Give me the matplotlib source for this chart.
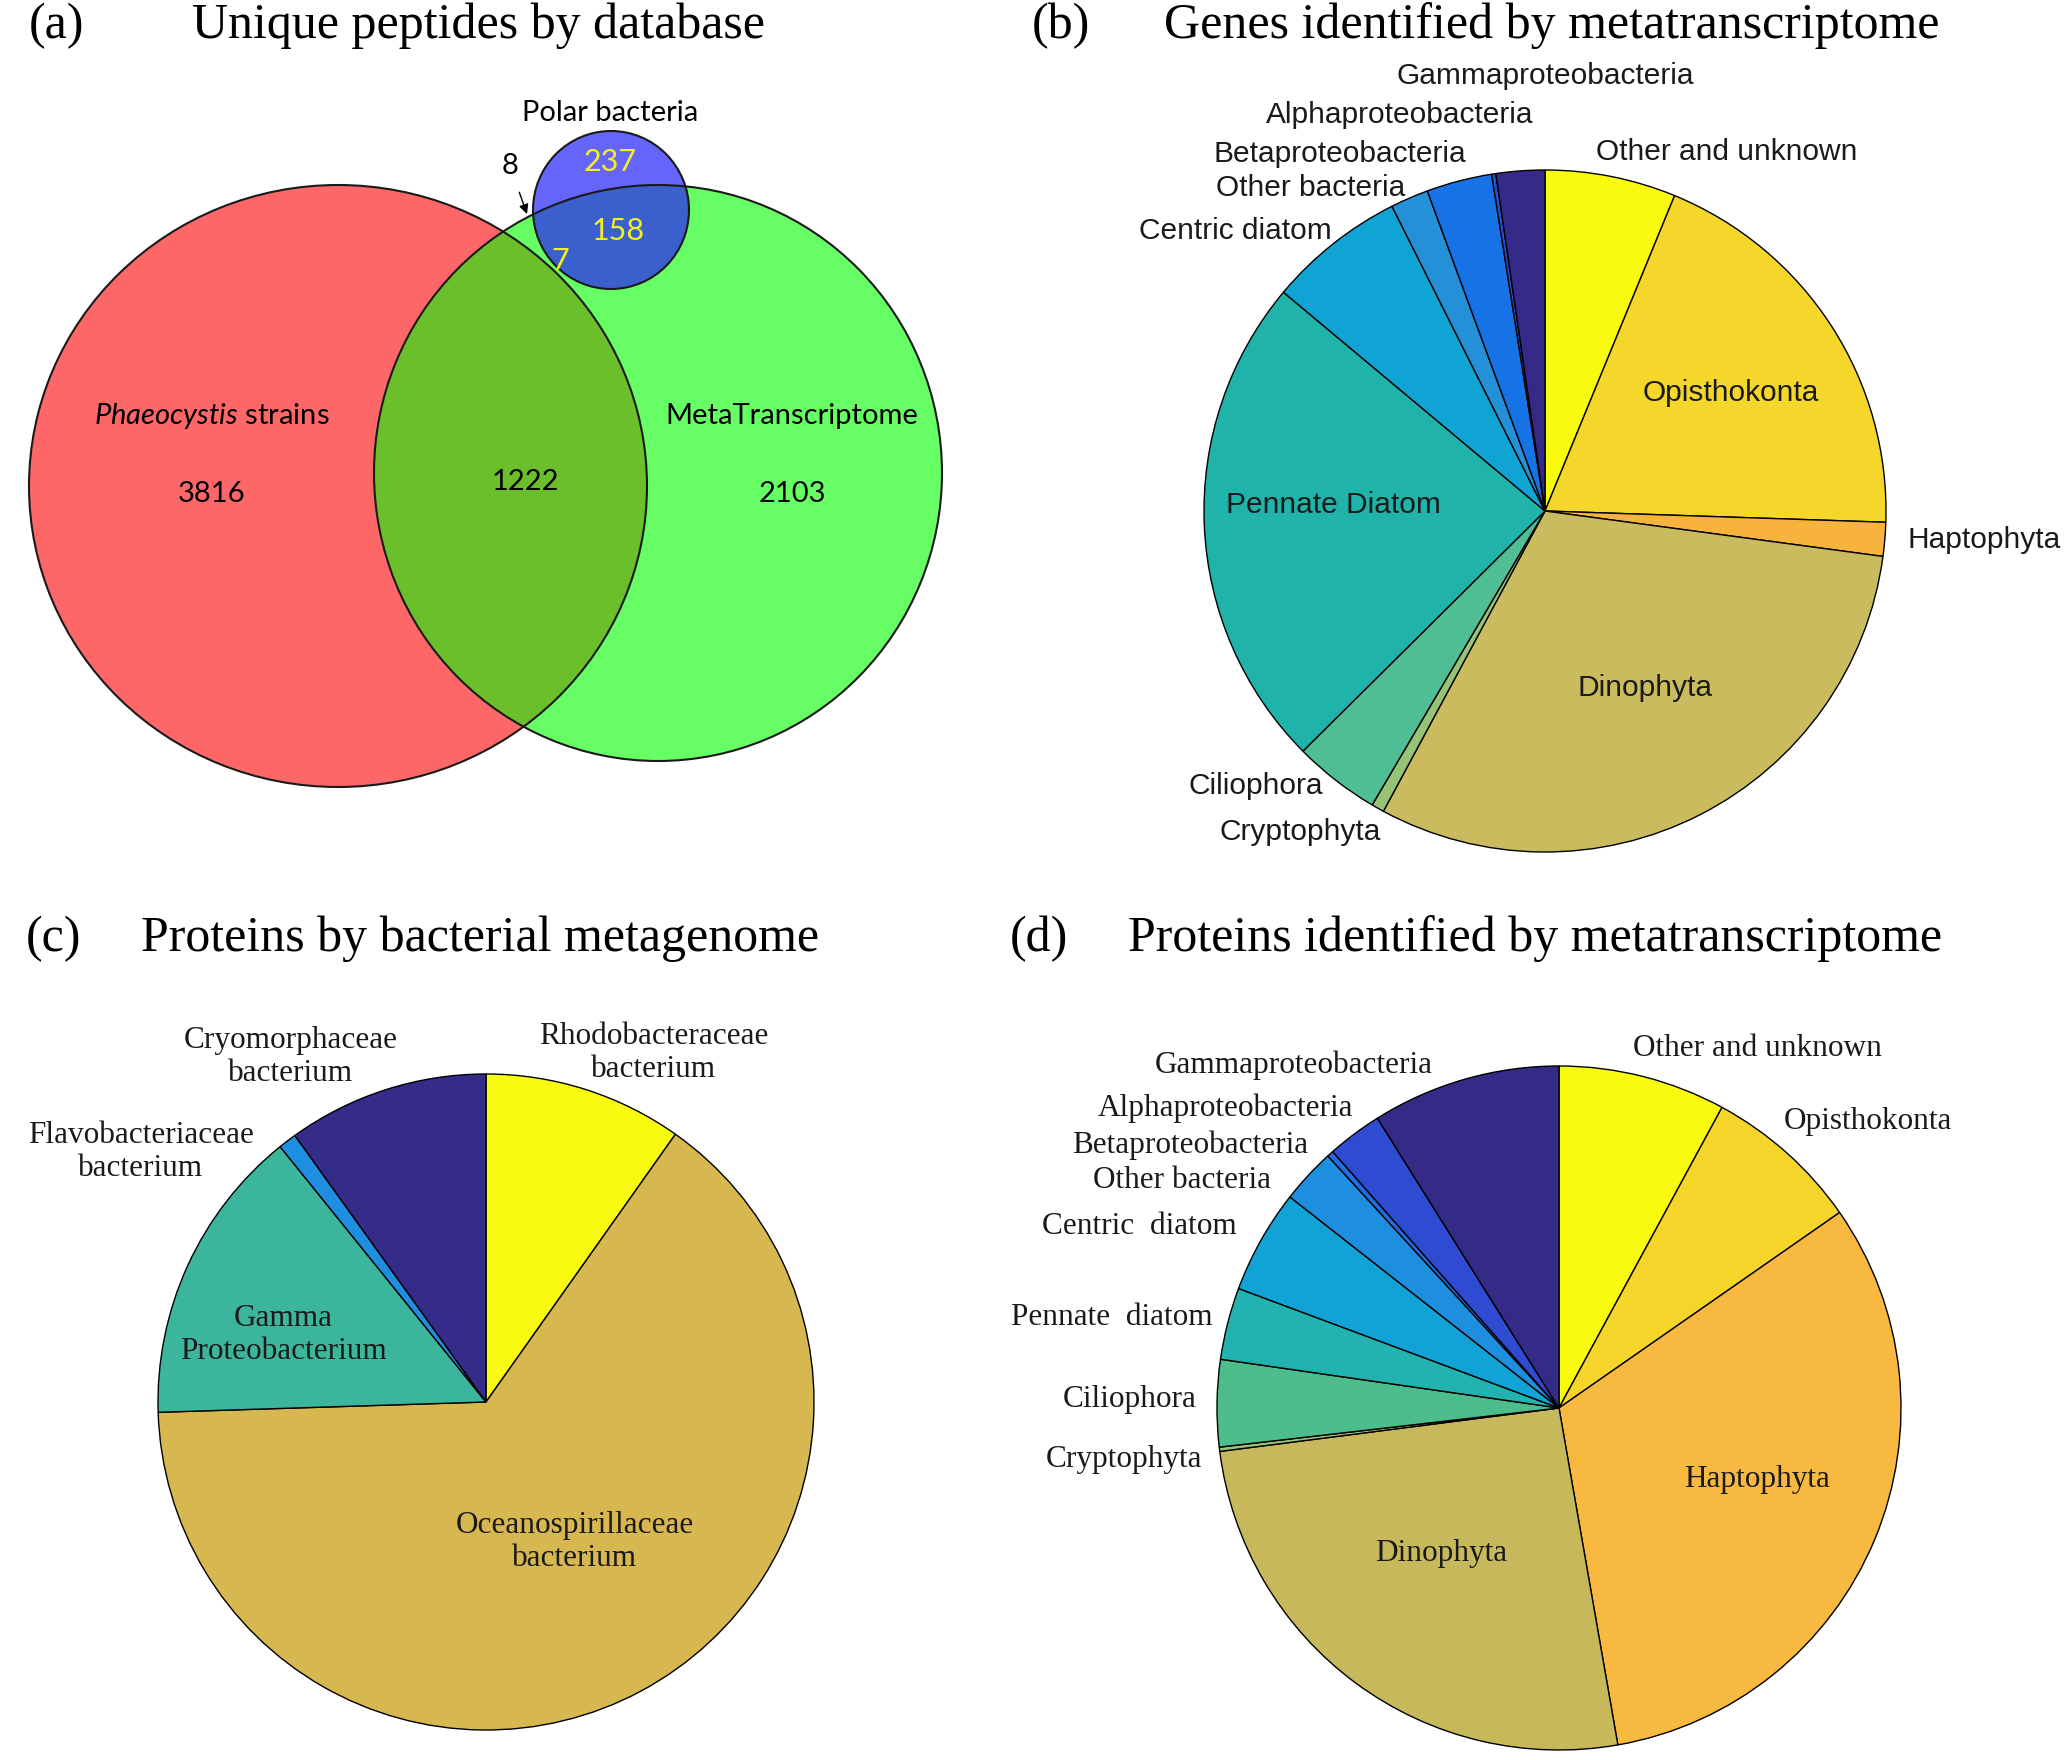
#!/usr/bin/env python3
"""
Four-panel figure: Venn diagram of unique peptides plus three taxonomy pies.
"""
import matplotlib
matplotlib.use('Agg')
import matplotlib.pyplot as plt
from matplotlib.patches import Ellipse

W, H = 2067, 1760

# ---- data -------------------------------------------------------------
venn_sets = ['Phaeocystis strains', 'MetaTranscriptome', 'Polar bacteria']
venn_counts = {'phaeo_only': 3816, 'phaeo_meta': 1222, 'meta_only': 2103,
               'polar_only': 237, 'polar_meta': 158, 'all_three': 7,
               'phaeo_polar': 8}

# (b) genes identified by metatranscriptome, % of genes
b_labels = ['Other and unknown', 'Opisthokonta', 'Haptophyta', 'Dinophyta',
            'Cryptophyta', 'Ciliophora', 'Pennate Diatom', 'Centric diatom',
            'Other bacteria', 'Betaproteobacteria', 'Alphaproteobacteria',
            'Gammaproteobacteria']
b_values = [6.2, 19.3, 1.6, 30.7, 0.6, 4.1, 23.5, 6.5, 1.8, 3.1, 0.2, 2.3]

# (c) proteins by bacterial metagenome, %
c_labels = ['Rhodobacteraceae\nbacterium', 'Oceanospirillaceae\nbacterium',
            'Gamma\nProteobacterium', 'Flavobacteriaceae\nbacterium',
            'Cryomorphaceae\nbacterium']
c_values = [9.8, 64.7, 14.7, 0.9, 9.9]

# (d) proteins identified by metatranscriptome, %
d_labels = ['Other and unknown', 'Opisthokonta', 'Haptophyta', 'Dinophyta',
            'Cryptophyta', 'Ciliophora', 'Pennate  diatom', 'Centric  diatom',
            'Other bacteria', 'Betaproteobacteria', 'Alphaproteobacteria',
            'Gammaproteobacteria']
d_values = [7.9, 7.4, 31.9, 25.7, 0.2, 4.1, 3.4, 4.9, 2.6, 0.3, 2.6, 8.9]

# ---- styling ----------------------------------------------------------
b_colors = ['#f9fb0e', '#f5d62b', '#f8b23e', '#c9bb5e', '#96c374', '#4fbe94',
            '#1fb3aa', '#10a4d4', '#2490d8', '#1673e6', '#2a4fd0', '#352a87']
c_colors = ['#f8fa10', '#d6b750', '#3bb69c', '#1d8ee0', '#352b88']
d_colors = ['#f9fb0e', '#f5d52a', '#f7b940', '#c8b85c', '#96c374', '#4dbd8e',
            '#22b3b0', '#11a2d6', '#1e8ede', '#1f6ee6', '#2e4bd2', '#342b86']

SERIF = 'Liberation Serif'
SANS = 'Liberation Sans'
VENN = 'Lato'

plt.rcParams['mathtext.fontset'] = 'custom'
plt.rcParams['mathtext.it'] = 'Lato:italic'
plt.rcParams['mathtext.rm'] = 'Lato'

fig = plt.figure(figsize=(W / 100, H / 100), dpi=100)
fig.patch.set_facecolor('white')


def fx(x, y):
    return x / W, 1 - y / H


def ftext(x, y, s, **kw):
    kw.setdefault('ha', 'center')
    kw.setdefault('va', 'center')
    fig.text(*fx(x, y), s, **kw)


# ---- titles -----------------------------------------------------------
titles = [(29, 26, '(a)', 'left'), (479, 26, 'Unique peptides by database', 'center'),
          (1032, 26, '(b)', 'left'), (1552, 26, 'Genes identified by metatranscriptome', 'center'),
          (26, 939, '(c)', 'left'), (480, 939, 'Proteins by bacterial metagenome', 'center'),
          (1010, 939, '(d)', 'left'), (1535, 939, 'Proteins identified by metatranscriptome', 'center')]
for x, y, s, ha in titles:
    ftext(x, y, s, ha=ha, family=SERIF, fontsize=36)

# ---- panel (a): Venn --------------------------------------------------
ax_v = fig.add_axes([0, 0, 1, 1])
ax_v.set_xlim(0, W)
ax_v.set_ylim(H, 0)
ax_v.axis('off')

red = Ellipse((338, 486), 618, 602, facecolor='#fd6767', edgecolor='none')
green = Ellipse((658, 473), 568, 576, facecolor='#67fd65', edgecolor='none')
ax_v.add_patch(red)
ax_v.add_patch(green)
overlap = Ellipse((658, 473), 568, 576, facecolor='#6bbf2b', edgecolor='none')
ax_v.add_patch(overlap)
overlap.set_clip_path(red)

blue = Ellipse((611, 210), 156, 158, facecolor='#6565fb', edgecolor='none')
ax_v.add_patch(blue)
blue_green = Ellipse((611, 210), 156, 158, facecolor='#3c5fce', edgecolor='none')
ax_v.add_patch(blue_green)
blue_green.set_clip_path(green)

for c, wd, ht in [((338, 486), 618, 602), ((658, 473), 568, 576),
                  ((611, 210), 156, 158)]:
    ax_v.add_patch(Ellipse(c, wd, ht, fill=False, edgecolor='#1a1a1a',
                           linewidth=1.5))

vk = dict(family=VENN, fontsize=21, ha='center', va='center')
ax_v.text(610, 113, venn_sets[2], **vk)
ax_v.text(212, 416, r'$\it{Phaeocystis}$ strains', **vk)
ax_v.text(792, 416, venn_sets[1], **vk)
ax_v.text(212, 494, str(venn_counts['phaeo_only']), **vk)
ax_v.text(525, 482, str(venn_counts['phaeo_meta']), **vk)
ax_v.text(792, 494, str(venn_counts['meta_only']), **vk)
yk = dict(vk, fontsize=22, color='#f2f21a')
ax_v.text(610, 162, str(venn_counts['polar_only']), **yk)
ax_v.text(618, 231, str(venn_counts['polar_meta']), **yk)
ax_v.text(560, 261, str(venn_counts['all_three']), **yk)
ax_v.annotate(str(venn_counts['phaeo_polar']), xy=(527, 214), xytext=(510, 166),
              family=VENN, fontsize=21, ha='center', va='center',
              arrowprops=dict(arrowstyle='-|>', color='black', lw=1,
                              shrinkA=8, shrinkB=0, mutation_scale=14))

# ---- pies -------------------------------------------------------------
def draw_pie(cx, cy, r, values, colors):
    ax = fig.add_axes([(cx - r) / W, 1 - (cy + r) / H, 2 * r / W, 2 * r / H])
    ax.pie(values, colors=colors, startangle=90, counterclock=False,
           normalize=True, radius=1,
           wedgeprops=dict(edgecolor='black', linewidth=1.0))
    ax.set_xlim(-1, 1)
    ax.set_ylim(-1, 1)
    ax.axis('off')
    return ax


draw_pie(1545, 511, 341, b_values, b_colors)
draw_pie(486, 1402, 328, c_values, c_colors)
draw_pie(1559, 1408, 342, d_values, d_colors)

# labels of pie (b)
b_pos = [(1727, 152), (1731, 393), (1984, 540), (1645, 688), (1300, 832),
         (1256, 786), (1333, 505), (1235, 231), (1311, 188), (1340, 154),
         (1400, 115), (1545, 76)]
for lab, (x, y) in zip(b_labels, b_pos):
    ftext(x, y, lab, family=SANS, fontsize=21.5, color='#1a1a1a')

# labels of pie (c)
c_pos = [(654, 1053), (575, 1542), (283, 1335), (141, 1152), (291, 1057)]
for lab, (x, y) in zip(c_labels, c_pos):
    ftext(x, y, lab, family=SERIF, fontsize=22.5, color='#1a1a1a')

# labels of pie (d)
d_pos = [(1757, 1048), (1868, 1122), (1757, 1479), (1441, 1553), (1124, 1459),
         (1130, 1400), (1112, 1317), (1139, 1227), (1182, 1181), (1190, 1145),
         (1226, 1108), (1294, 1065)]
for lab, (x, y) in zip(d_labels, d_pos):
    ftext(x, y, lab, family=SERIF, fontsize=22.5, color='#1a1a1a')

plt.savefig('out.png', dpi=100, facecolor='white')
